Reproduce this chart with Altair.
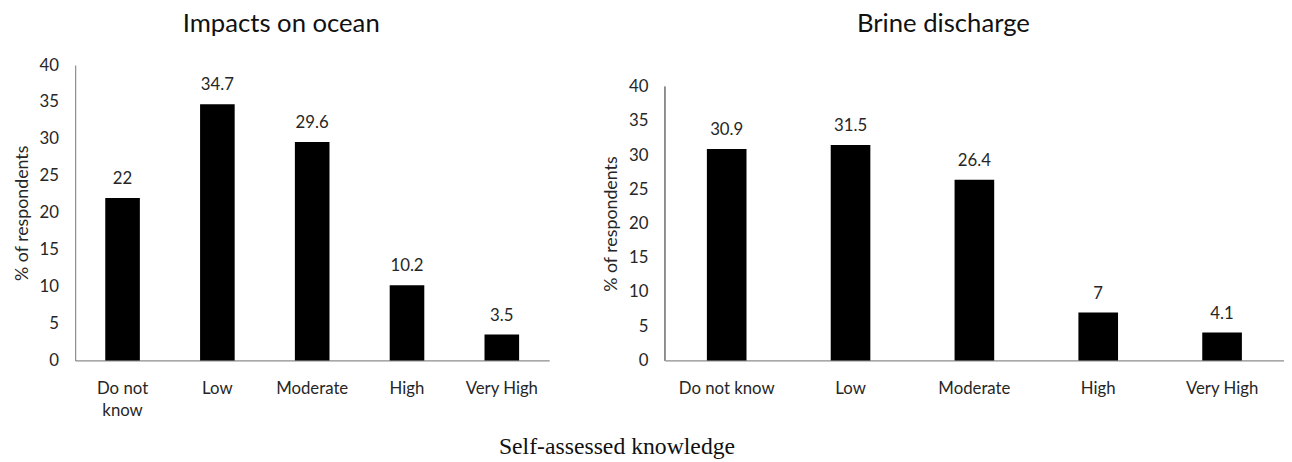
import altair as alt
import pandas as pd

categories = ["Do not know", "Low", "Moderate", "High", "Very High"]
ocean_values = [22, 34.7, 29.6, 10.2, 3.5]
brine_values = [30.9, 31.5, 26.4, 7, 4.1]
y_ticks = [0, 5, 10, 15, 20, 25, 30, 35, 40]

FONT = "Lato"
TXT = "#262626"
AXC = "#8c8c8c"
H = 299  # shared panel height


def panel(values, title, width, inner_height, pad_inner, wrap, title_offset):
    df = pd.DataFrame({"cat": categories, "val": values})
    ymax = y_ticks[-1] * H / inner_height
    short = inner_height < H
    label_expr = "datum.value"
    if wrap:
        label_expr = "datum.value == 'Do not know' ? ['Do not', 'know'] : datum.value"
    x = alt.X(
        "cat:N",
        sort=categories,
        title=None,
        scale=alt.Scale(paddingInner=pad_inner, paddingOuter=pad_inner / 2),
        axis=alt.Axis(
            labelAngle=0, ticks=False, labelPadding=20, labelFont=FONT,
            labelFontSize=17, labelColor=TXT, domainColor=AXC, domainWidth=1.2,
            labelExpr=label_expr, labelLineHeight=23,
        ),
    )
    axis_kw = dict(
        values=y_ticks, title="% of respondents", grid=False, ticks=False,
        labelPadding=17, titlePadding=8, labelFont=FONT, labelFontSize=17,
        labelColor=TXT, titleFont=FONT, titleFontSize=18, titleFontWeight="normal",
        titleColor=TXT, domainColor=AXC, domainWidth=1.2, domain=not short,
        labelOverlap=False, labelFlush=False,
    )
    if short:
        axis_kw["titleY"] = (H - inner_height) + inner_height / 2
    yscale = alt.Scale(domain=[0, ymax], nice=False)
    y = alt.Y("val:Q", scale=yscale, axis=alt.Axis(**axis_kw))
    bars = alt.Chart(df).mark_bar(color="black").encode(x=x, y=y)
    text = alt.Chart(df).mark_text(
        font=FONT, fontSize=17, color=TXT, baseline="alphabetic", dy=-14
    ).encode(x=x, y=y, text=alt.Text("val:Q", format=".1~f"))
    layers = [bars, text]
    if short:
        rule = alt.Chart(df).mark_rule(color=AXC, strokeWidth=1.2).encode(
            x=alt.value(0),
            y=alt.YDatum(y_ticks[0], type="quantitative", scale=yscale,
                         axis=alt.Axis(**axis_kw)),
            y2=alt.Y2Datum(y_ticks[-1]),
        )
        layers.append(rule)
    return alt.layer(*layers).properties(
        width=width,
        height=H,
        title=alt.TitleParams(
            title, font=FONT, fontSize=26, fontWeight="normal", color="#111111",
            anchor="middle", frame="bounds", offset=title_offset,
        ),
    )


left = panel(ocean_values, "Impacts on ocean", 480, 299, 0.635, True, 20)
right = panel(brine_values, "Brine discharge", 627, 277, 0.68, False, 29)

chart = alt.hconcat(left, right, spacing=54).properties(
    title=alt.TitleParams(
        "Self-assessed knowledge", orient="bottom", anchor="middle",
        font="Liberation Serif", fontSize=24, fontWeight="normal",
        color="#111111", dx=-32, offset=17,
    ),
    padding={"left": 5, "top": 0, "right": 0, "bottom": 0},
).configure_view(stroke=None).configure_concat(spacing=54)

chart.save("out.html", embed_options={"renderer": "svg", "actions": False})
